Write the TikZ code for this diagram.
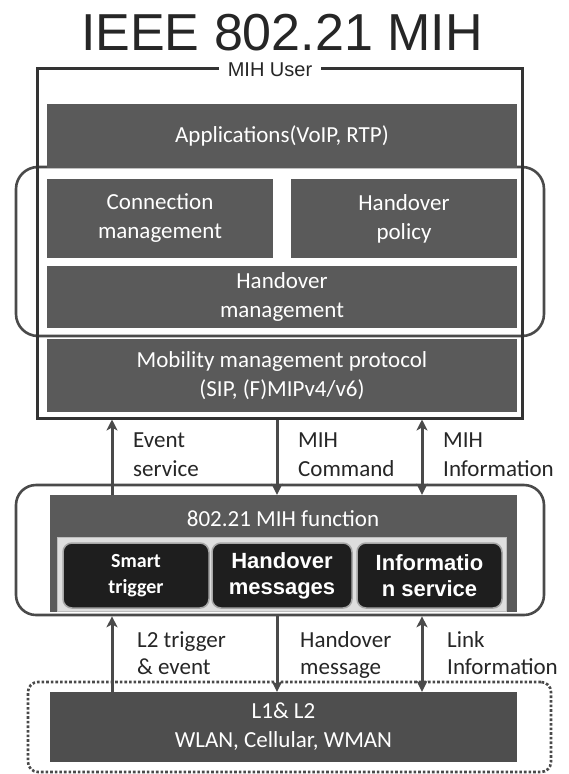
\documentclass[tikz,border=0pt]{standalone}
\usepackage{fontspec}
\setmainfont{Carlito}
\newfontfamily\titlefont{Liberation Sans}
\newfontfamily\boldsans{Liberation Sans}
\usetikzlibrary{arrows.meta,calc}
\definecolor{bargray}{HTML}{5A5A5A}
\definecolor{lowgray}{HTML}{4E4E4E}
\definecolor{linegray}{HTML}{4A4A4A}
\definecolor{darkbox}{HTML}{1E1E1E}
\tikzset{
  bar/.style={fill=bargray, draw=none, text=white, align=center, inner sep=0pt,
    font=\fontsize{23}{29}\selectfont},
  grp/.style={draw=linegray, line width=2.6pt, rounded corners=22pt, fill=none},
  darkbtn/.style={fill=darkbox, draw=gray!70, line width=1.5pt, rounded corners=9pt,
    text=white, align=center, inner sep=0pt},
  lbl/.style={anchor=base west, inner sep=0pt, text=black!85,
    font=\fontsize{23}{29}\selectfont},
  arr/.style={draw=linegray, line width=3pt},
  tipA/.style={-{Stealth[length=11pt,width=11pt,inset=3pt]}},
  tipB/.style={{Stealth[length=11pt,width=11pt,inset=3pt]}-{Stealth[length=11pt,width=11pt,inset=3pt]}}
}
\begin{document}
\begin{tikzpicture}[x=1pt,y=-1pt]
\useasboundingbox[fill=white] (0,0) rectangle (569,774);

% title
\node[font=\titlefont\fontsize{52}{52}\selectfont, text=black!85, anchor=base, inner sep=0pt] (title) at (282,50) {IEEE 802.21 MIH};

% group box behind (handover group)
\node[grp, minimum width=528pt, minimum height=169pt] (grp1) at (280,251.5) {};

% outer MIH user box
\node[draw=black!80, line width=3pt, minimum width=485pt, minimum height=350pt, inner sep=0pt] (userbox) at (279.5,243) {};
\node[fill=white, inner xsep=8.5pt, inner ysep=3pt, anchor=base, font=\titlefont\fontsize{20}{20}\selectfont, text=black!85] (mihuser) at (270,76) {MIH User};

% bars
\node[bar, minimum width=470pt, minimum height=64pt] (apps) at (282,136) {Applications(VoIP, RTP)};
\node[bar, minimum width=226pt, minimum height=79pt] (conn) at (160,218.5) {Connection\\management};
\node[bar, minimum width=226pt, minimum height=79pt] (policy) at (404,218.5) {Handover\\policy};
\node[bar, minimum width=470pt, minimum height=62pt] (homgmt) at (282,297) {Handover\\management};
\node[bar, minimum width=470pt, minimum height=73pt] (mob) at (282,375.5) {Mobility management protocol\\(SIP, (F)MIPv4/v6)};

% MIH function
\node[grp, rounded corners=20pt, minimum width=528pt, minimum height=130pt] (mihgrp) at (280,550) {};
\node[fill=bargray, minimum width=467pt, minimum height=117pt, inner sep=0pt] (mihbar) at (283.5,553.5) {};
\node[text=white, font=\fontsize{23}{23}\selectfont, inner sep=0pt] (mihtxt) at (283,519) {802.21 MIH function};
\node[fill=white!80!bargray, draw=white!60!bargray, line width=1pt, minimum width=449pt, minimum height=74pt, inner sep=0pt] (panel) at (281.5,574) {};
\node[darkbtn, minimum width=146pt, minimum height=65pt, font=\bfseries\fontsize{20}{26}\selectfont] (st) at (136,575.5) {Smart\\trigger};
\node[darkbtn, minimum width=140pt, minimum height=65pt, font=\boldsans\bfseries\fontsize{22}{26}\selectfont] (hm) at (282,575.5) {Handover\\messages};
\node[darkbtn, minimum width=145pt, minimum height=65pt, font=\boldsans\bfseries\fontsize{22}{26}\selectfont] (is) at (429.5,575.5) {Informatio\\n service};

% L1 & L2
\node[draw=linegray, line width=2.6pt, dotted, rounded corners=10pt, minimum width=523pt, minimum height=90pt, inner sep=0pt] (lowgrp) at (289.5,727) {};
\node[bar, fill=lowgray, minimum width=467pt, minimum height=70pt] (l1) at (283.5,727) {L1\& L2\\WLAN, Cellular, WMAN};

% x positions of connectors
\coordinate (xa) at (112,0);
\coordinate (xb) at (277,0);
\coordinate (xc) at (422,0);

% upper arrows
\draw[arr, tipA] (xa |- mihbar.north) -- (xa |- userbox.south);
\draw[arr, tipA] (xb |- userbox.south) -- (xb |- mihbar.north);
\draw[arr, tipB] (xc |- userbox.south) -- (xc |- mihbar.north);

% lower arrows
\draw[arr, tipA] (xa |- l1.north) -- (xa |- mihgrp.south);
\draw[arr, tipA] (xb |- mihgrp.south) -- (xb |- l1.north);
\draw[arr, tipB] (xc |- mihgrp.south) -- (xc |- l1.north);

% labels
\node[lbl] (ev1) at (133,447) {Event};
\node[lbl] (ev2) at (133,476) {service};
\node[lbl] (mc1) at (298,447) {MIH};
\node[lbl] (mc2) at (298,476) {Command};
\node[lbl] (mi1) at (443,447) {MIH};
\node[lbl] (mi2) at (443,476) {Information};
\node[lbl] (lt1) at (137,647) {L2 trigger};
\node[lbl] (lt2) at (137,674) {\& event};
\node[lbl] (hm1) at (300,647) {Handover};
\node[lbl] (hm2) at (300,674) {message};
\node[lbl] (li1) at (447,647) {Link};
\node[lbl] (li2) at (447,674) {Information};
\end{tikzpicture}
\end{document}
